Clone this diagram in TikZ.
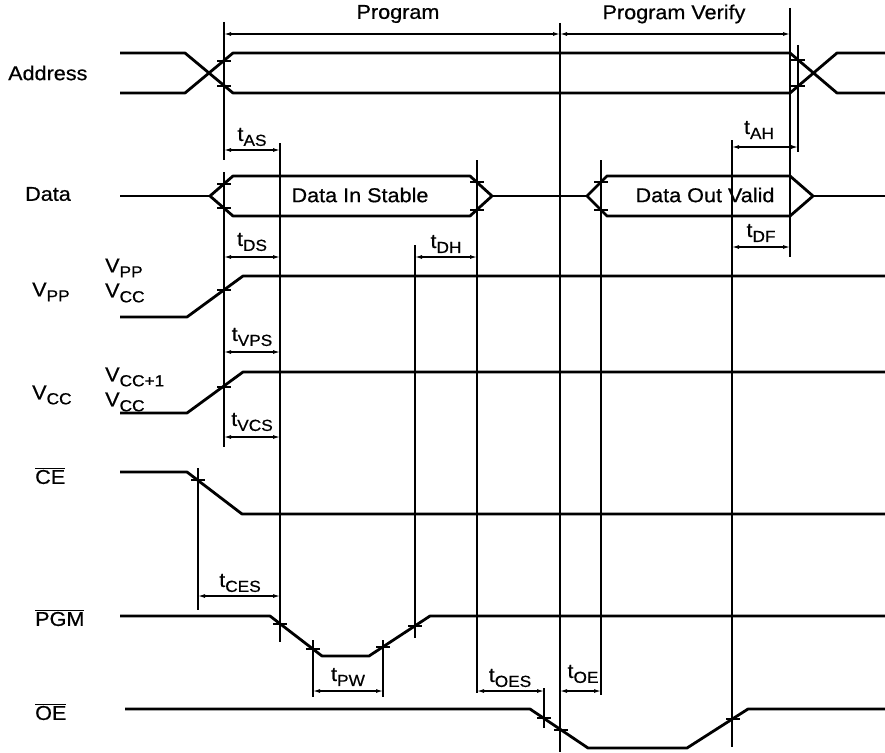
\documentclass[tikz,border=0pt]{standalone}
\usepackage{fontspec}
\setmainfont{Liberation Sans}[FakeStretch=1.08,FakeBold=0.6]
\usetikzlibrary{arrows.meta}
\newcommand{\sbs}[2]{#1\raisebox{-5pt}{\fontsize{16}{16}\selectfont #2}}

\begin{document}
\begin{tikzpicture}[x=1pt,y=-1pt,
  sig/.style={black,line width=2.8pt,line join=round},
  mid/.style={black,line width=2pt},
  ref/.style={black,line width=1.3pt},
  tm/.style={black,line width=1.2pt,{Latex[length=7pt,width=4pt]}-{Latex[length=7pt,width=4pt]}},
  tickmark/.style={black,line width=1.4pt},
  lbl/.style={inner sep=0pt,font=\fontsize{20}{24}\selectfont},
  sname/.style={lbl,anchor=west}]
\useasboundingbox (0,0) rectangle (885,752);

% signal names
\node[sname] (addr) at (8,73) {Address};
\node[sname] (data) at (25,194) {Data};
\node[sname] (vpp) at (32,292) {\sbs{V}{PP}};
\node[sname] (vcc) at (32,395) {\sbs{V}{CC}};
\node[sname] (ce) at (35,476) {$\overline{\mbox{CE}}$};
\node[sname] (pgm) at (35,618) {$\overline{\mbox{PGM}}$};
\node[sname] (oe) at (35,712) {$\overline{\mbox{OE}}$};

% levels
\node[sname] (vpphi) at (105,268) {\sbs{V}{PP}};
\node[sname] (vpplo) at (105,293) {\sbs{V}{CC}};
\node[sname] (vcchi) at (105,377) {\sbs{V}{CC+1}};
\node[sname] (vcclo) at (105,402) {\sbs{V}{CC}};

% modes
\node[lbl] (prog) at (398,14) {Program};
\node[lbl] (verify) at (674,14) {Program Verify};
\coordinate (P1) at (224,34);
\coordinate (P2) at (560,34);
\coordinate (P3) at (790,34);
\draw[tm] (P1) -- (P2);
\draw[tm] (P2) -- (P3);

% reference lines
\draw[ref] (224,22) -- (224,160);
\draw[ref] (224,172) -- (224,447);
\draw[ref] (280,143) -- (280,642);
\draw[ref] (198,468) -- (198,610);
\draw[ref] (313,640) -- (313,697);
\draw[ref] (383,640) -- (383,697);
\draw[ref] (415,245) -- (415,638);
\draw[ref] (477,160) -- (477,693);
\draw[ref] (544,688) -- (544,728);
\draw[ref] (560,23) -- (560,752);
\draw[ref] (601,160) -- (601,695);
\draw[ref] (732,140) -- (732,747);
\draw[ref] (790,8) -- (790,257);
\draw[ref] (798,45) -- (798,152);

% address
\draw[sig] (120,53) -- (185,53) -- (233,93) -- (790,93) -- (837,53) -- (885,53);
\draw[sig] (120,93) -- (185,93) -- (233,53) -- (790,53) -- (837,93) -- (885,93);

% data
\draw[mid] (120,196) -- (210,196);
\draw[mid] (492,196) -- (587,196);
\draw[mid] (813,196) -- (885,196);
\draw[sig] (210,196) -- (233,176) -- (470,176) -- (492,196) -- (470,216) -- (233,216) -- cycle;
\draw[sig] (587,196) -- (607,176) -- (790,176) -- (813,196) -- (790,216) -- (607,216) -- cycle;
\draw[sig] (790,176) -- (790,216);
\node[lbl] (din) at (360,195) {Data In Stable};
\node[lbl] (dout) at (705,195) {Data Out Valid};

% supplies and controls
\draw[sig] (120,317) -- (187,317) -- (243,276) -- (885,276);
\draw[sig] (120,413) -- (187,413) -- (243,372) -- (885,372);
\draw[sig] (120,472) -- (187,472) -- (242,514) -- (885,514);
\draw[sig] (120,616) -- (270,616) -- (322,656) -- (369,656) -- (430,616) -- (885,616);
\draw[sig] (125,709) -- (530,709) -- (588,748) -- (687,748) -- (748,709) -- (885,709);

% crossings
\foreach \x/\y in {224/61,224/86,798/60,798/86,224/184,224/208,477/182,477/210,
  601/182,601/210,224/290,224/387,198/480,280/624,313/649,383/647,415/626,
  544/718,561/730,733/719}
  \draw[tickmark] (\x,\y) +(-7,0) -- +(7,0);

% timings
\draw[tm] (224,150) -- (280,150);
\node[lbl] (tas) at (252,137) {\sbs{t}{AS}};
\draw[tm] (732,147) -- (798,147);
\node[lbl] (tah) at (759,130) {\sbs{t}{AH}};
\draw[tm] (224,257) -- (280,257);
\node[lbl] (tds) at (252,242) {\sbs{t}{DS}};
\draw[tm] (415,257) -- (477,257);
\node[lbl] (tdh) at (446,244) {\sbs{t}{DH}};
\draw[tm] (732,247) -- (790,247);
\node[lbl] (tdf) at (761,233) {\sbs{t}{DF}};
\draw[tm] (224,352) -- (280,352);
\node[lbl] (tvps) at (252,337) {\sbs{t}{VPS}};
\draw[tm] (224,437) -- (280,437);
\node[lbl] (tvcs) at (252,422) {\sbs{t}{VCS}};
\draw[tm] (198,596) -- (280,596);
\node[lbl] (tces) at (240,583) {\sbs{t}{CES}};
\draw[tm] (313,691) -- (383,691);
\node[lbl] (tpw) at (348,677) {\sbs{t}{PW}};
\draw[tm] (477,691) -- (544,691);
\node[lbl] (toes) at (510,678) {\sbs{t}{OES}};
\draw[tm] (560,691) -- (601,691);
\node[lbl] (toe) at (583,674) {\sbs{t}{OE}};

\end{tikzpicture}
\end{document}
